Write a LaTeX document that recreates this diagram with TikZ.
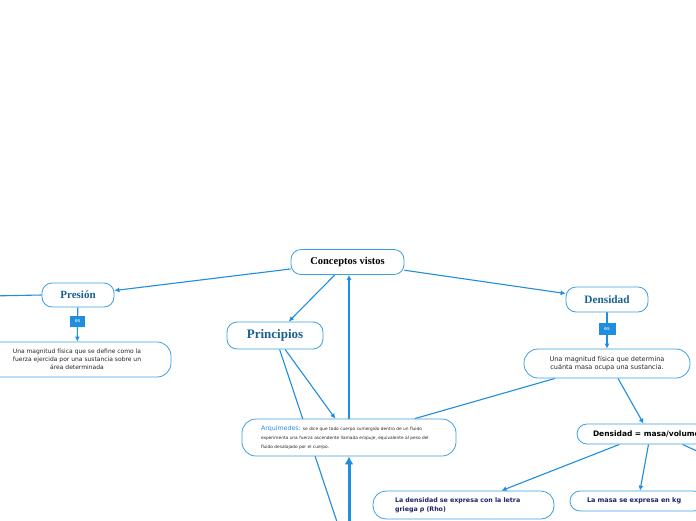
\documentclass[tikz,border=0pt]{standalone}
\usepackage{fontspec}
\setmainfont{DejaVu Sans}
\newfontfamily\headfont{Liberation Serif}
\usepackage{xcolor}
\usetikzlibrary{arrows.meta,backgrounds}
\definecolor{mapline}{HTML}{1F8EDE}
\definecolor{mapborder}{HTML}{3BA1E3}
\definecolor{headblue}{HTML}{1A5F91}
\definecolor{navytext}{HTML}{1B2465}
\definecolor{arqblue}{HTML}{2A8FD6}

\begin{document}
\begin{tikzpicture}[x=1pt,y=-1pt,
  box/.style={draw=mapborder,line width=0.8pt,fill=white,rounded corners=10pt,inner sep=0pt},
  headbox/.style={box,text=headblue},
  textbox/.style={box,rounded corners=14pt,align=center,text=black!85},
  boldbox/.style={box,align=left,text=navytext},
  link/.style={draw=mapline,line width=1.1pt,-{Latex[length=5pt,width=5pt]}},
  plainlink/.style={draw=mapline,line width=1.1pt},
  eslbl/.style={fill=mapline,text=white,font=\fontsize{5}{5}\selectfont,minimum width=15pt,minimum height=11pt,inner sep=0pt}]
\useasboundingbox (0,0) rectangle (696,520);

\node[box,minimum width=113pt,minimum height=25pt,font=\headfont\bfseries\fontsize{10.5}{11}\selectfont] (conc) at (347.5,262) {Conceptos vistos};
\node[headbox,minimum width=72pt,minimum height=24pt,font=\headfont\bfseries\fontsize{11}{12}\selectfont] (pres) at (78,295) {Presión};
\node[headbox,minimum width=96pt,minimum height=27pt,font=\headfont\bfseries\fontsize{13}{14}\selectfont] (prin) at (275,335.5) {Principios};
\node[headbox,minimum width=82pt,minimum height=25pt,font=\headfont\bfseries\fontsize{11.3}{12}\selectfont] (dens) at (607,299.5) {Densidad};

\node[textbox,minimum width=188pt,minimum height=35pt,font=\fontsize{6}{8}\selectfont] (pdesc) at (77,359.5)
  {Una magnitud física que se define como la\\fuerza ejercida por una sustancia sobre un\\área determinada};
\node[textbox,minimum width=166pt,minimum height=29pt,font=\fontsize{6.5}{8.5}\selectfont] (ddesc) at (607,363.5)
  {Una magnitud física que determina\\cuánta masa ocupa una sustancia.};
\node[textbox,align=left,text width=176pt,inner xsep=19pt,minimum height=37pt,font=\fontsize{4.3}{9}\selectfont] (arq) at (349,437.5)
  {{\color{arqblue}\fontsize{6.3}{9}\selectfont Arquímedes:} se dice que todo cuerpo sumergido dentro de un fluido\\experimenta una fuerza ascendente llamada empuje, equivalente al peso del\\fluido desalojado por el cuerpo.};

\node[box,align=left,text width=125pt,inner xsep=16pt,minimum height=20pt,font=\fontsize{7.5}{8}\selectfont\bfseries] (dmv) at (655.5,434) {Densidad = masa/volumen};
\node[boldbox,text width=137pt,inner xsep=22pt,minimum height=28pt,rounded corners=13pt,font=\fontsize{6.3}{9}\selectfont\bfseries] (rho) at (463.5,505)
  {La densidad se expresa con la letra\\griega ρ (Rho)};
\node[boldbox,text width=100pt,inner xsep=17pt,minimum height=20pt,font=\fontsize{6.5}{8}\selectfont\bfseries] (kg) at (637,501) {La masa se expresa en kg};

\coordinate (presend) at (-10,296);
\coordinate (prinend) at (343,540);
\coordinate (arqfoot) at (349,540);
\coordinate (dmvend) at (712,458);

\begin{scope}[on background layer]
\fill[white] (0,0) rectangle (696,520);
\draw[link] (conc) -- (pres);
\draw[link] (conc) -- (dens);
\draw[link] (conc) -- (prin);
\draw[link] (arq.north) -- (arq.north |- conc.south);
\draw[plainlink] (pres.west) -- (presend);
\draw[link] (pres) -- node[eslbl,pos=0.4]{es} (pdesc);
\draw[link] (prin) -- (arq);
\draw[plainlink] (prin) -- (prinend);
\draw[link,line width=3pt,-{Latex[length=8pt,width=9pt]}] (arqfoot) -- (arq);
\draw[link] (dens) -- node[eslbl,minimum width=17pt,minimum height=12pt,pos=0.45]{es} (ddesc);
\draw[plainlink] (ddesc) -- (arq);
\draw[link] ([xshift=11pt]ddesc.south) -- ([xshift=-12pt]dmv.north);
\draw[link] ([xshift=-36pt]dmv.south) -- ([xshift=38pt]rho.north);
\draw[link] ([xshift=-7pt]dmv.south) -- ([xshift=3pt]kg.north);
\draw[plainlink] ([xshift=27pt]dmv.south) -- (dmvend);
\end{scope}
\end{tikzpicture}
\end{document}
